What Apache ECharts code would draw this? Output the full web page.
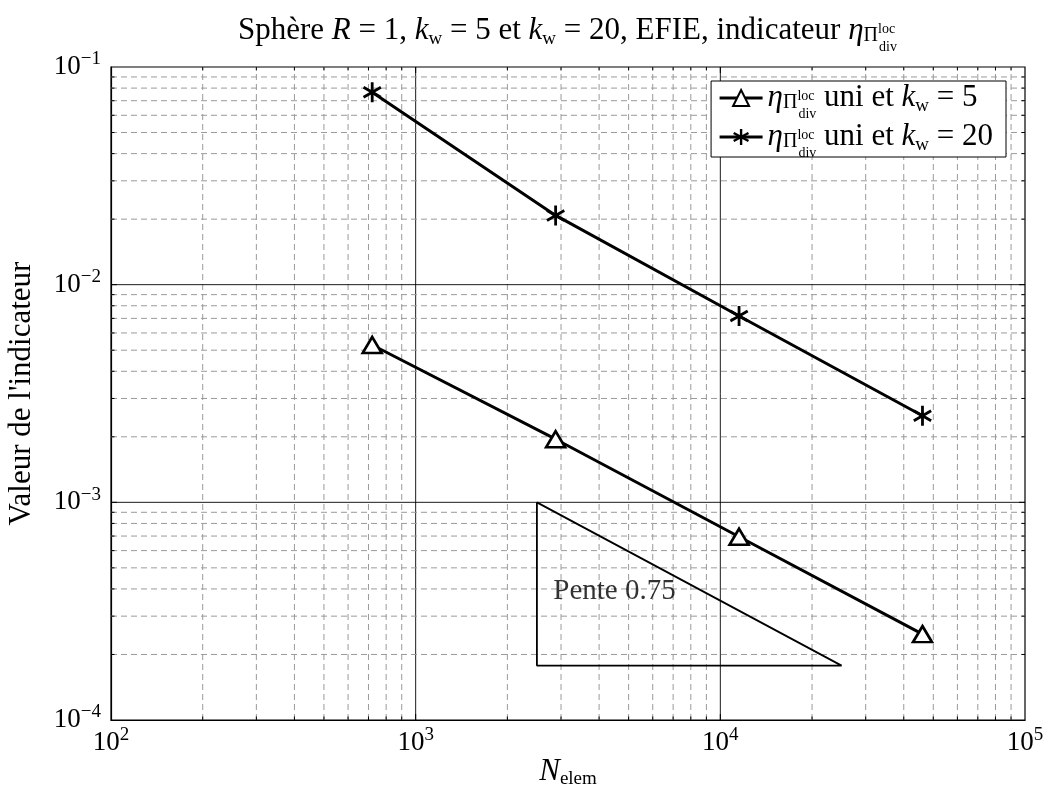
<!DOCTYPE html>
<html>
<head>
<meta charset="utf-8">
<script src="https://cdn.jsdelivr.net/npm/echarts@6/dist/echarts.min.js"></script>
<style>
  html, body { margin: 0; padding: 0; background: #fff; }
  #main { width: 1045px; height: 789px; }
</style>
</head>
<body>
<div id="main"></div>
<script>
// Sphère R = 1, indicateur eta, EFIE
const nElem = [720, 2880, 11520, 46080];
const eta5 = [0.00528, 0.00195, 0.000695, 0.000248];
const eta20 = [0.0765, 0.0208, 0.00718, 0.00250];

// triangle de pente 0.75
const slopeX = [2500, 2500, 25000, 2500];
const slopeY = [0.001, 0.0001778, 0.0001778, 0.001];
const slopeLabel = [[2830, 0.00039]];

const X_MIN = 100, X_MAX = 100000;
const Y_MIN = 0.0001, Y_MAX = 0.1;
const xMajor = [1000, 10000];
const yMajor = [0.001, 0.01];
const mult = [2, 3, 4, 5, 6, 7, 8, 9];
const xMinor = [100, 1000, 10000].flatMap(d => mult.map(m => m * d));
const yMinor = [0.0001, 0.001, 0.01].flatMap(d => mult.map(m => +(m * d).toPrecision(3)));

const FONT = 'Liberation Serif';
const MINUS = '\u2212';

// grille : [x, y, type] type 0 x mineur, 1 x majeur, 2 y mineur, 3 y majeur
const gridData = []
  .concat(xMinor.map(v => [v, Y_MIN, 0]))
  .concat(xMajor.map(v => [v, Y_MIN, 1]))
  .concat(yMinor.map(v => [X_MIN, v, 2]))
  .concat(yMajor.map(v => [X_MIN, v, 3]));

// astérisque à 6 branches
const star = 'path://M936,379L796,621L-936,-379L-796,-621Z' +
  'M-796,621L-936,379L796,-621L936,-379Z' +
  'M140,1000L-140,1000L-140,-1000L140,-1000Z';

const LH = 40;
const richBase = {
  i: { fontFamily: FONT, fontStyle: 'italic', fontSize: 31, lineHeight: LH },
  w: { fontFamily: FONT, fontSize: 19, verticalAlign: 'bottom', lineHeight: LH, padding: [0, 0, 2, 0] },
  P: { fontFamily: FONT, fontSize: 20, verticalAlign: 'bottom', lineHeight: LH, padding: [0, 0, 5, 0] },
  loc: { fontFamily: FONT, fontSize: 14, verticalAlign: 'middle', lineHeight: LH, width: 1, padding: [0, 0, 4, 0] },
  div: { fontFamily: FONT, fontSize: 14, verticalAlign: 'bottom', lineHeight: LH, padding: [0, 0, -3, 0] }
};
const richName = {
  i: { fontFamily: FONT, fontStyle: 'italic', fontSize: 31, lineHeight: 30 },
  w: { fontFamily: FONT, fontSize: 19, verticalAlign: 'bottom', lineHeight: 30, padding: [0, 0, -2, 0] }
};
const etaTxt = '{i|η}{P|Π}{loc|loc}{div|div}';

const option = {
  animation: false,
  title: {
    text: 'Sphère {i|R} = 1, {i|k}{w|w} = 5 et {i|k}{w|w} = 20, EFIE, indicateur ' + etaTxt,
    left: 233,
    top: 6,
    textStyle: {
      fontFamily: FONT, fontSize: 31, fontWeight: 'normal', color: '#000', lineHeight: LH,
      rich: richBase
    }
  },
  grid: {
    left: 111, right: 20, top: 67, bottom: 69,
    outerBoundsMode: 'none',
    show: true, borderColor: '#000', borderWidth: 1.2
  },
  legend: {
    orient: 'vertical',
    right: 39,
    top: 81,
    padding: [-3, 13, -3, 7],
    itemGap: -4,
    itemWidth: 43,
    itemHeight: 20,
    backgroundColor: '#fff',
    borderColor: '#000',
    borderWidth: 1,
    borderRadius: 0,
    lineStyle: { width: 3 },
    data: ['eta5', 'eta20'],
    formatter: function (name) {
      return name === 'eta5'
        ? etaTxt + ' uni et {i|k}{w|w} = 5'
        : etaTxt + ' uni et {i|k}{w|w} = 20';
    },
    textStyle: {
      fontFamily: FONT, fontSize: 31, color: '#000', lineHeight: LH,
      rich: richBase
    }
  },
  xAxis: {
    type: 'log',
    logBase: 10,
    min: X_MIN,
    max: X_MAX,
    name: '{i|N}{w|elem}',
    nameLocation: 'middle',
    nameGap: 37,
    nameMoveOverlap: false,
    nameTextStyle: { fontFamily: FONT, fontSize: 31, color: '#000', lineHeight: 30, verticalAlign: 'top', rich: richName },
    axisLine: { lineStyle: { color: '#000', width: 1.2 } },
    axisTick: { show: false },
    splitLine: { show: false },
    axisLabel: {
      margin: 6,
      fontFamily: FONT, fontSize: 27, color: '#000', lineHeight: 34,
      formatter: v => '10{s|' + Math.round(Math.log10(v)) + '}',
      rich: { s: { fontFamily: FONT, fontSize: 19, verticalAlign: 'top', lineHeight: 34 } }
    }
  },
  yAxis: {
    type: 'log',
    logBase: 10,
    min: Y_MIN,
    max: Y_MAX,
    name: "Valeur de l'indicateur",
    nameLocation: 'middle',
    nameGap: 74,
    nameTextStyle: { fontFamily: FONT, fontSize: 31, color: '#000' },
    axisLine: { lineStyle: { color: '#000', width: 1.2 } },
    axisTick: { show: false },
    splitLine: { show: false },
    axisLabel: {
      margin: 10,
      fontFamily: FONT, fontSize: 27, color: '#000', lineHeight: 34,
      formatter: v => '10{s|' + MINUS + Math.round(-Math.log10(v)) + '}',
      rich: { s: { fontFamily: FONT, fontSize: 19, verticalAlign: 'top', lineHeight: 34 } }
    }
  },
  series: [
    {
      type: 'custom',
      silent: true,
      z: 1,
      encode: { x: 0, y: 1 },
      data: gridData,
      renderItem: function (params, api) {
        const x = api.value(0), y = api.value(1), kind = api.value(2);
        const major = kind % 2 === 1;
        const t = major ? 6 : 3.5;
        let p1, p2, ticks;
        if (kind < 2) {
          p1 = api.coord([x, Y_MIN]); p2 = api.coord([x, Y_MAX]);
          ticks = [[p1[0], p1[1], p1[0], p1[1] - t], [p2[0], p2[1], p2[0], p2[1] + t]];
        } else {
          p1 = api.coord([X_MIN, y]); p2 = api.coord([X_MAX, y]);
          ticks = [[p1[0], p1[1], p1[0] + t, p1[1]], [p2[0], p2[1], p2[0] - t, p2[1]]];
        }
        const children = [{
          type: 'line',
          shape: { x1: p1[0], y1: p1[1], x2: p2[0], y2: p2[1] },
          style: major
            ? { stroke: '#000', lineWidth: 0.9 }
            : { stroke: '#9a9a9a', lineWidth: 1, lineDash: [6, 4] }
        }];
        ticks.forEach(tk => children.push({
          type: 'line',
          shape: { x1: tk[0], y1: tk[1], x2: tk[2], y2: tk[3] },
          style: { stroke: '#000', lineWidth: 1 }
        }));
        return { type: 'group', children: children };
      }
    },
    {
      type: 'line',
      z: 3,
      silent: true,
      data: slopeX.map((x, i) => [x, slopeY[i]]),
      symbol: 'none',
      lineStyle: { color: '#000', width: 1.8 }
    },
    {
      type: 'scatter',
      z: 3,
      silent: true,
      data: slopeLabel,
      symbolSize: 0,
      label: {
        show: true,
        position: 'right',
        distance: 0,
        formatter: 'Pente 0.75',
        fontFamily: FONT, fontSize: 29, color: '#000'
      }
    },
    {
      name: 'eta5',
      type: 'line',
      z: 5,
      data: nElem.map((x, i) => [x, eta5[i]]),
      symbol: 'triangle',
      symbolSize: [19, 16],
      lineStyle: { color: '#000', width: 3 },
      itemStyle: { color: '#fff', borderColor: '#000', borderWidth: 2.6 }
    },
    {
      name: 'eta20',
      type: 'line',
      z: 5,
      data: nElem.map((x, i) => [x, eta20[i]]),
      symbol: star,
      symbolSize: 20,
      symbolKeepAspect: true,
      lineStyle: { color: '#000', width: 3 },
      itemStyle: { color: '#000' }
    }
  ]
};

const chart = echarts.init(document.getElementById('main'));
chart.setOption(option);
window.addEventListener('resize', () => chart.resize());
</script>
</body>
</html>
